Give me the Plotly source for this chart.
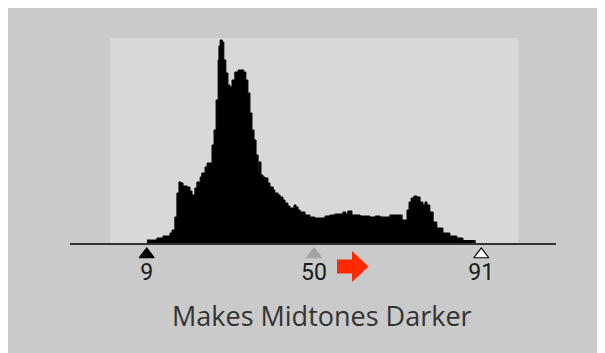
import plotly.graph_objects as go

# ---- data ----
levels = [9.07, 11.5, 13.0, 14.7, 15.2, 15.9, 16.4, 16.9, 17.4, 17.9, 18.9, 19.6, 20.1, 20.8,
          21.3, 22.1, 22.5, 23.3, 23.8, 24.5, 25.0, 25.5, 26.0, 26.5, 26.7, 27.0, 27.5, 27.9,
          28.4, 28.9, 29.4, 29.9, 30.6, 31.4, 32.1, 32.8, 33.3, 33.8, 34.3, 34.8, 35.3, 35.8,
          36.3, 36.5, 37.0, 37.5, 38.0, 38.7, 39.2, 40.0, 40.4, 41.2, 41.7, 42.4, 42.9, 43.6,
          44.1, 44.6, 45.1, 45.6, 46.1, 46.6, 47.8, 49.0, 50.2, 51.5, 52.7, 53.9, 55.1, 56.4,
          57.1, 57.8, 58.3, 59.3, 60.3, 61.3, 62.5, 63.7, 65.0, 66.2, 67.4, 68.6, 69.9, 71.1,
          71.6, 72.3, 72.8, 73.3, 73.8, 74.5, 75.2, 76.0, 76.7, 77.2, 77.7, 78.4, 79.2, 80.1,
          81.6, 83.3, 85.0, 86.5, 88.2, 89.5]
counts = [3, 5, 7, 10, 13, 26, 50, 61, 60, 57, 56, 52, 48, 55,
          61, 66, 70, 76, 80, 80, 98, 113, 143, 183, 197, 203, 201, 183,
          170, 158, 156, 163, 171, 173, 173, 171, 163, 150, 130, 113, 103, 88,
          70, 81, 68, 66, 65, 60, 56, 53, 50, 48, 46, 43, 40, 37,
          35, 35, 38, 36, 33, 31, 28, 26, 25, 25, 27, 28, 29, 29,
          31, 29, 32, 28, 28, 27, 27, 26, 27, 26, 26, 28, 28, 28,
          23, 23, 33, 41, 45, 47, 46, 41, 38, 41, 38, 31, 21, 15,
          10, 7, 5, 2.5, 2.5, 0]

slider_levels = [9, 50, 91]
slider_labels = ["9", "50", "91"]
slider_fill = ["#000000", "#a3a3a3", "#ffffff"]
slider_edge = ["#000000", "#a3a3a3", "#000000"]
caption = "Makes Midtones Darker"

# ---- geometry helpers: page pixel -> paper (page has an 8px body margin) ----
W, H = 605, 353
OFF = 8
def px(x):
    return (x - OFF) / W
def py(y):
    return 1 - (y - OFF) / H

X0_PAGE = 110      # page x of level 0
XSCALE = 4.08      # px per level
BASE_PAGE = 243    # page y of histogram baseline

fig = go.Figure()

# histogram
fig.add_trace(go.Scatter(
    x=levels, y=counts, mode="lines", line=dict(shape="hv", color="black", width=1),
    fill="tozeroy", fillcolor="black", hoverinfo="skip", showlegend=False))

# slider markers
fig.add_trace(go.Scatter(
    x=slider_levels, y=[-11.5] * 3, mode="markers",
    marker=dict(symbol="triangle-up", size=13, color=slider_fill,
                line=dict(color=slider_edge, width=1.2)),
    hoverinfo="skip", showlegend=False))

# slider labels
fig.add_trace(go.Scatter(
    x=slider_levels, y=[-31] * 3, mode="text", text=slider_labels,
    textposition="middle center",
    textfont=dict(family="Roboto, sans-serif", size=23, color="#1a1a1a"),
    hoverinfo="skip", showlegend=False))

shapes = [
    # histogram background (levels 0..100)
    dict(type="rect", xref="x", yref="y", x0=0, x1=100, y0=0, y1=205,
         fillcolor="#d8d8d8", line=dict(width=0), layer="below"),
    # baseline
    dict(type="line", xref="paper", yref="y", x0=px(70), x1=px(556), y0=-1, y1=-1,
         line=dict(color="#333333", width=2.2), layer="below"),
    # red arrow
    dict(type="path", xref="paper", yref="paper",
         path=(f"M{px(337)},{py(259.5)} L{px(352)},{py(259.5)} L{px(352)},{py(251)} "
               f"L{px(368.5)},{py(266.5)} L{px(352)},{py(282)} L{px(352)},{py(273.5)} "
               f"L{px(337)},{py(273.5)} Z"),
         fillcolor="#ff2a00", line=dict(width=0), layer="above"),
]

fx0 = X0_PAGE - OFF
fb = BASE_PAGE - OFF
fig.update_layout(
    width=W, height=H, margin=dict(l=0, r=0, t=0, b=0),
    paper_bgcolor="#cacaca", plot_bgcolor="rgba(0,0,0,0)",
    xaxis=dict(range=[-fx0 / XSCALE, (W - fx0) / XSCALE], visible=False, fixedrange=True),
    yaxis=dict(range=[fb - H, fb], visible=False, fixedrange=True),
    shapes=shapes,
    annotations=[dict(
        text=caption, xref="paper", yref="paper", x=px(322), y=py(315),
        xanchor="center", yanchor="middle", showarrow=False,
        font=dict(family="Open Sans, sans-serif", size=27, color="#333333"))],
)

fig.write_html("out.html")
